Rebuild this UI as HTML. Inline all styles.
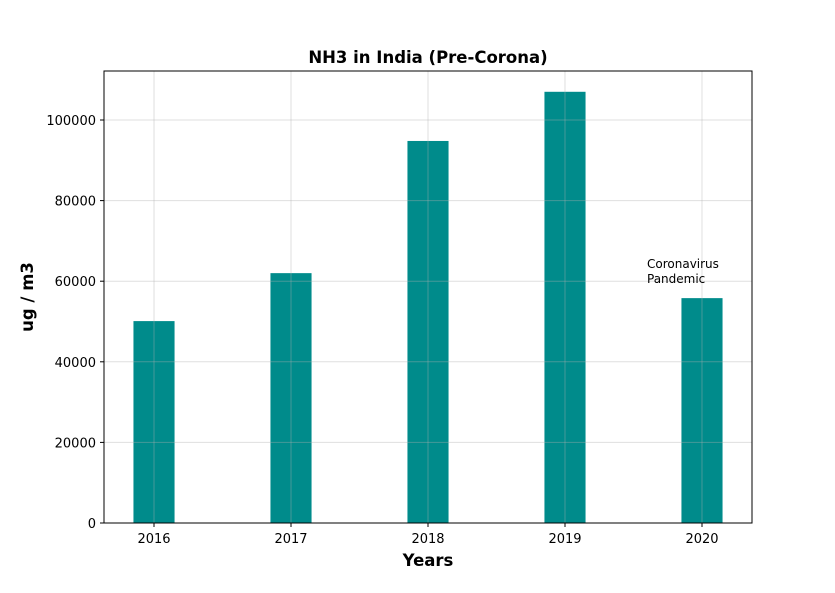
<!DOCTYPE html>
<html><head><meta charset="utf-8">
<style>
body{margin:0;background:#fff;font-family:"Liberation Sans","DejaVu Sans",sans-serif;}
svg text{font-family:"DejaVu Sans","Liberation Sans",sans-serif;}
</style></head>
<body>
<svg id="chart" width="835" height="588" viewBox="0 0 835 588" xmlns="http://www.w3.org/2000/svg">
<rect width="835" height="588" fill="#fff"/>
<g id="bars"></g>
<g id="grid"></g>
<g id="axes"></g>
<rect x="104" y="71" width="648" height="452" fill="none" stroke="#000" stroke-width="1"/>
<text x="428" y="63" text-anchor="middle" font-size="16.5" font-weight="bold">NH3 in India (Pre-Corona)</text>
<text x="428" y="566" text-anchor="middle" font-size="16.5" font-weight="bold">Years</text>
<text transform="translate(33,297) rotate(-90)" text-anchor="middle" font-size="16.5" font-weight="bold">ug / m3</text>
<text x="647" y="268" font-size="12"><tspan x="647">Coronavirus</tspan><tspan x="647" dy="15">Pandemic</tspan></text>
</svg>
<script>
const categories=["2016","2017","2018","2019","2020"];
const values=[50100,62000,94800,107000,55800];
const yTicks=[0,20000,40000,60000,80000,100000];
const L=104,R=752,T=71,B=523,yMax=112160,xMin=-0.365,xMax=4.365,barW=0.3;
const ns="http://www.w3.org/2000/svg";
function x(i){return L+(i-xMin)/(xMax-xMin)*(R-L);}
function y(v){return B-v/yMax*(B-T);}
function mk(t,a,p){const e=document.createElementNS(ns,t);for(const k in a)e.setAttribute(k,a[k]);p.appendChild(e);return e;}
const bars=document.getElementById('bars'),grid=document.getElementById('grid'),axes=document.getElementById('axes');
values.forEach((v,i)=>{
 const r=mk('rect',{x:x(i-barW/2),y:y(v),width:x(barW)-x(0),height:B-y(v),fill:'#008b8b'},bars);
 
 
});
categories.forEach((c,i)=>{
 const g=mk('line',{x1:x(i),x2:x(i),y1:T,y2:B,stroke:'#b0b0b0','stroke-opacity':0.4,'stroke-width':1},grid);
 
 
 mk('line',{x1:x(i),x2:x(i),y1:B,y2:B+4,stroke:'#000'},axes);
 const t=mk('text',{x:x(i),y:B+20,'text-anchor':'middle','font-size':13},axes);
 t.textContent=c;
 
 
});
yTicks.forEach(v=>{
 const g=mk('line',{x1:L,x2:R,y1:y(v),y2:y(v),stroke:'#b0b0b0','stroke-opacity':0.4,'stroke-width':1},grid);
 
 
 mk('line',{x1:L-4,x2:L,y1:y(v),y2:y(v),stroke:'#000'},axes);
 const t=mk('text',{x:L-8,y:y(v)+5,'text-anchor':'end','font-size':13},axes);
 t.textContent=String(v);
 
 
});
</script>
</body></html>
